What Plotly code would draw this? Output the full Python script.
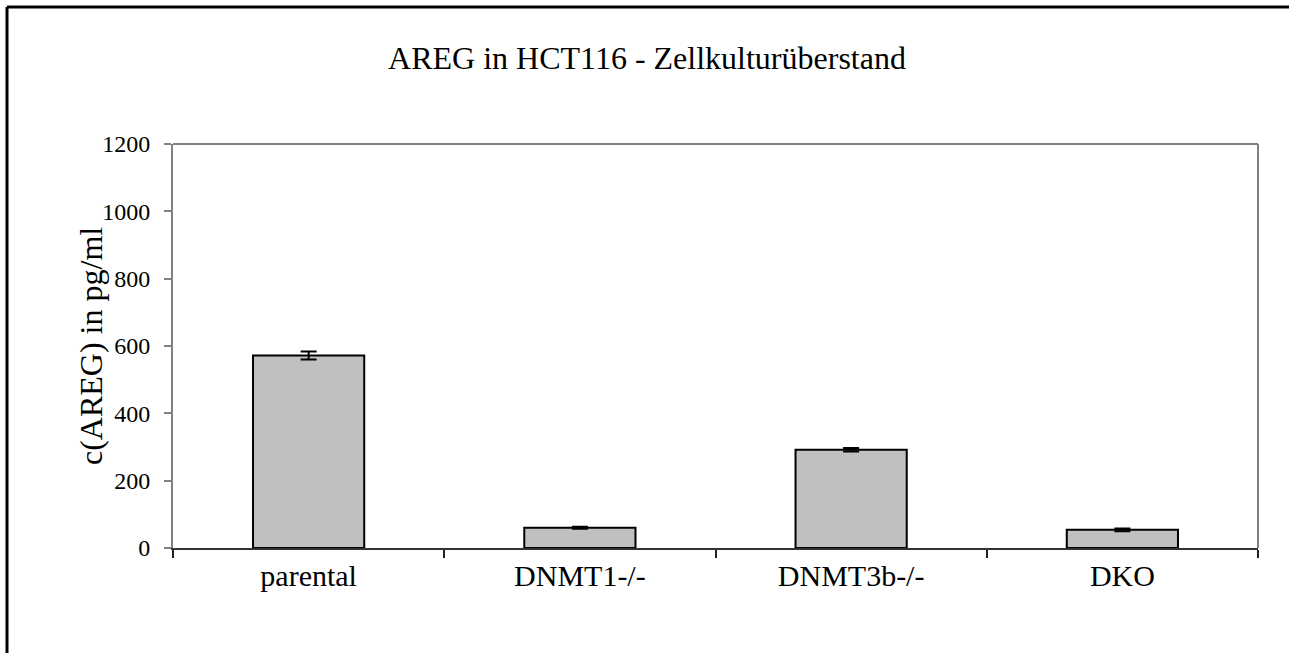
import plotly.graph_objects as go

categories = ["parental", "DNMT1-/-", "DNMT3b-/-", "DKO"]
values = [572, 60, 292, 54]
errors = [12, 3, 5, 4]
y_ticks = [0, 200, 400, 600, 800, 1000, 1200]

FONT = "Liberation Serif, Times New Roman, serif"

fig = go.Figure()
fig.add_trace(go.Bar(
    x=categories, y=values,
    marker=dict(color="#C0C0C0", line=dict(color="black", width=2)),
    error_y=dict(type="data", array=errors, visible=True, color="black", thickness=2, width=8),
    width=0.41,
))

W, H = 1289, 653
L, R, T, B = 173, 31, 144, 105
pw = W - L - R
ph = H - T - B

fig.update_layout(
    width=W, height=H,
    margin=dict(l=L, r=R, t=T, b=B, pad=0),
    paper_bgcolor="white", plot_bgcolor="white",
    showlegend=False,
    font=dict(family=FONT, color="black", size=24),
    title=dict(text="AREG in HCT116 - Zellkulturüberstand", x=647 / W, xanchor="center",
               y=1 - 58 / H, yanchor="middle", font=dict(family=FONT, size=32, color="black")),
    xaxis=dict(
        type="category", tickson="boundaries", ticks="outside", ticklen=8, tickwidth=2,
        tickcolor="#222", showline=True, linecolor="#333", linewidth=2,
        showgrid=False, tickfont=dict(family=FONT, size=30), ticklabelstandoff=0,
    ),
    yaxis=dict(
        range=[0, 1200], tickvals=y_ticks, ticks="outside", ticklen=7, tickwidth=2,
        tickcolor="#808080", showline=True, linecolor="#808080", linewidth=2,
        showgrid=False, zeroline=False, tickfont=dict(family=FONT, size=24),
        ticklabelstandoff=9,
    ),
    annotations=[
        dict(text="c(AREG) in pg/ml", textangle=-90, xref="paper", yref="paper",
             x=(91 - L) / pw, y=0.5, xanchor="center", yanchor="middle",
             showarrow=False, font=dict(family=FONT, size=32, color="black")),
    ],
    shapes=[
        # plot frame (top & right)
        dict(type="line", xref="paper", yref="paper", x0=0, x1=1, y0=1, y1=1,
             line=dict(color="#808080", width=2)),
        dict(type="line", xref="paper", yref="paper", x0=1, x1=1, y0=0, y1=1,
             line=dict(color="#808080", width=2)),
        # outer chart frame (left & top visible)
        dict(type="line", xref="paper", yref="paper",
             x0=(7 - L) / pw, x1=(7 - L) / pw, y0=-0.5, y1=(H - B - 7) / ph,
             line=dict(color="black", width=3)),
        dict(type="line", xref="paper", yref="paper",
             x0=(7 - L) / pw, x1=1.2, y0=(H - B - 7) / ph, y1=(H - B - 7) / ph,
             line=dict(color="black", width=3)),
    ],
)

fig.write_html("out.html", config={"displayModeBar": False},
               post_script="document.body.style.margin='0';")
